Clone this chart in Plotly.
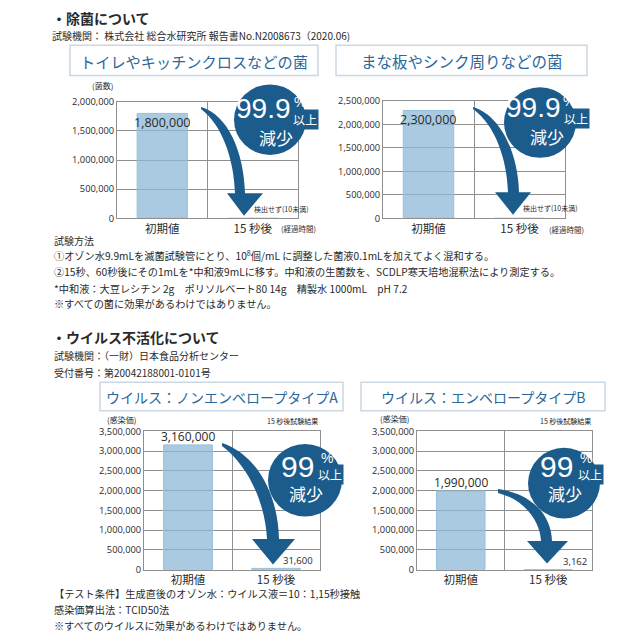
import plotly.graph_objects as go

# ---------------- data ----------------
categories = ["初期値", "15 秒後"]
bacteria_cloth = [1800000, 0]        # トイレやキッチンクロスなどの菌 (15秒後: 検出せず)
bacteria_board = [2300000, 0]        # まな板やシンク周りなどの菌 (15秒後: 検出せず)
virus_type_a = [3160000, 31600]      # ノンエンベロープタイプA
virus_type_b = [1990000, 3162]       # エンベロープタイプB
axis_max = [2000000, 2500000, 3500000, 3500000]
tick_step = 500000
panel_titles = ["トイレやキッチンクロスなどの菌", "まな板やシンク周りなどの菌",
                "ウイルス：ノンエンベロープタイプA", "ウイルス：エンベロープタイプB"]
reduction_pct = ["99.9", "99.9", "99", "99"]
series = [bacteria_cloth, bacteria_board, virus_type_a, virus_type_b]

# ---------------- style ----------------
W = H = 640
JP = "Noto Sans CJK JP"
NUM = "Open Sans"
BLUE = "#1b5c8c"
TITLE_BLUE = "#2a679c"
BAR = "rgba(140,184,215,0.75)"
GRID = "#8f8f8f"
TXT = "#2a2a2a"


def px(x):
    return x / W


def py(y):
    return 1 - y / H


def path(cmds):
    out = []
    for c in cmds:
        if c == "Z":
            out.append("Z")
            continue
        op, *pts = c
        out.append(op + " " + " ".join(f"{px(a):.5f},{py(b):.5f}" for a, b in pts))
    return " ".join(out)


# panel geometry in pixels
panels = [
    dict(x=(117, 298), y=(96.7, 215.7)),
    dict(x=(383, 565), y=(96.0, 215.7)),
    dict(x=(144, 320), y=(433.3, 574.3)),
    dict(x=(417, 592), y=(433.3, 574.3)),
]

fig = go.Figure()
layout = dict(width=W, height=H, margin=dict(l=0, r=0, t=0, b=0),
              paper_bgcolor="white", plot_bgcolor="white", showlegend=False,
              font=dict(family=JP, color=TXT))

for i, (vals, pan) in enumerate(zip(series, panels)):
    n = "" if i == 0 else str(i + 1)
    fig.add_trace(go.Bar(x=categories, y=vals, width=0.555,
                         marker=dict(color=BAR, line=dict(color="rgba(150,192,222,1)", width=1)),
                         xaxis="x" + n, yaxis="y" + n, hoverinfo="skip"))
    layout["xaxis" + n] = dict(domain=[px(pan["x"][0]), px(pan["x"][1])], anchor="y" + n,
                               type="category", range=[-0.5, 1.5], tickson="boundaries",
                               showgrid=True, gridcolor=GRID, gridwidth=1,
                               showline=True, mirror=True, linecolor=GRID, linewidth=1,
                               ticks="", tickfont=dict(family=JP, size=11.5, color=TXT))
    layout["yaxis" + n] = dict(domain=[py(pan["y"][1]), py(pan["y"][0])], anchor="x" + n,
                               range=[0, axis_max[i]], dtick=tick_step, tickformat=",d",
                               showgrid=True, gridcolor=GRID, gridwidth=1, zeroline=False,
                               showline=True, mirror=True, linecolor=GRID, linewidth=1,
                               ticks="", tickfont=dict(family=NUM, size=9.3, color=TXT))

ann = []
shapes = []


def text(x, y, s, size=10, color=TXT, family=JP, xanchor="left", bold=False, **kw):
    if bold:
        s = "<b>" + s + "</b>"
    ann.append(dict(x=px(x), y=py(y), xref="paper", yref="paper", text=s, showarrow=False,
                    xanchor=xanchor, yanchor="middle", font=dict(family=family, size=size, color=color), **kw))


# ---- headers & notes ----
text(50, 11, "・除菌について", size=14, bold=True)
text(50, 29, "試験機関： 株式会社 総合水研究所 報告書No.N2008673（2020.06)", size=10)
text(52, 238, "試験方法", size=10)
text(52, 254, "①オゾン水9.9mLを滅菌試験管にとり、10<sup>8</sup>個/mL に調整した菌液0.1mLを加えてよく混和する。", size=10.2)
text(52, 270, "②15秒、60秒後にその1mLを*中和液9mLに移す。中和液の生菌数を、SCDLP寒天培地混釈法により測定する。", size=10.2)
text(52, 287, "*中和液：大豆レシチン 2g　ポリソルベート80 14g　精製水 1000mL　pH 7.2", size=10.2)
text(52, 303, "※すべての菌に効果があるわけではありません。", size=10.2)

text(50, 337, "・ウイルス不活化について", size=14, bold=True)
text(52, 356, "試験機関：（一財）日本食品分析センター", size=10)
text(52, 373, "受付番号：第20042188001-0101号", size=10)
text(52, 599, "【テスト条件】生成直後のオゾン水：ウイルス液＝10：1,15秒接触", size=10.2)
text(52, 615, "感染価算出法：TCID50法", size=10.2)
text(52, 631, "※すべてのウイルスに効果があるわけではありません。", size=10.2)

# ---- title boxes ----
boxes = [(70, 39, 318, 70), (336, 39, 587, 70), (100, 383, 343, 412), (361, 383, 605, 412)]
for (x0, y0, x1, y1), t, fs in zip(boxes, panel_titles, [15.2, 15.5, 14, 14]):
    shapes.append(dict(type="rect", xref="paper", yref="paper", x0=px(x0), x1=px(x1), y0=py(y1), y1=py(y0),
                       fillcolor="white", line=dict(color="#cbd8e4", width=1.5), layer="above"))
    text((x0 + x1) / 2, (y0 + y1) / 2 + 1, t, size=fs, color=TITLE_BLUE, xanchor="center")

# ---- small axis labels ----
text(102, 80, "(菌数)", size=8, xanchor="center")
text(298, 226, "(経過時間)", size=7.5, xanchor="center")
text(566, 227, "(経過時間)", size=7.5, xanchor="center")
text(121, 421, "(感染価)", size=8, xanchor="center")
text(394, 420, "(感染価)", size=8, xanchor="center")
text(292, 423, "15 秒後試験結果", size=7, xanchor="center")
text(565, 423, "15 秒後試験結果", size=7, xanchor="center")

# ---- value labels (data coordinates) ----
def vlabel(i, k, s, xshift=0, yshift=0, size=12.5, family=NUM):
    n = "" if i == 0 else str(i + 1)
    ann.append(dict(x=categories[k], y=series[i][k], xref="x" + n, yref="y" + n, text=s,
                    showarrow=False, xshift=xshift, yshift=yshift, xanchor="center", yanchor="middle",
                    font=dict(family=family, size=size, color=TXT)))


vlabel(0, 0, f"{bacteria_cloth[0]:,}", yshift=-9)
vlabel(1, 0, f"{bacteria_board[0]:,}", yshift=-9)
vlabel(2, 0, f"{virus_type_a[0]:,}", yshift=8, size=12)
vlabel(3, 0, f"{virus_type_b[0]:,}", yshift=9, size=12)
vlabel(2, 1, f"{virus_type_a[1]:,}", xshift=22, yshift=8, size=9.5)
vlabel(3, 1, f"{virus_type_b[1]:,}", xshift=27, yshift=8, size=9.5)
vlabel(0, 1, "検出せず(10未満)", xshift=29, yshift=9, size=7, family=JP)
vlabel(1, 1, "検出せず(10未満)", xshift=31, yshift=10, size=7, family=JP)

# ---- arrows ----
arrows = [
    [("M", (201, 102)), ("C", (228, 110), (244, 148), (245, 190)), ("L", (263, 190)), ("L", (244, 213)),
     ("L", (227, 190)), ("L", (235, 190)), ("C", (234, 155), (222, 120), (201, 104)), "Z"],
    [("M", (473, 102)), ("C", (500, 110), (518, 148), (519, 189)), ("L", (531, 189)), ("L", (513, 212)),
     ("L", (495, 189)), ("L", (508, 189)), ("C", (507, 155), (495, 120), (473, 104)), "Z"],
    [("M", (222, 445)), ("C", (255, 456), (278, 495), (279, 543)), ("L", (295, 543)), ("L", (273, 569)),
     ("L", (252, 543)), ("L", (267, 543)), ("C", (265, 505), (248, 468), (222, 448)), "Z"],
    [("M", (498, 492)), ("C", (528, 496), (551, 515), (552, 545)), ("L", (568, 545)), ("L", (547, 568)),
     ("L", (527, 545)), ("L", (541, 545)), ("C", (540, 525), (525, 503), (498, 496)), "Z"],
]
for a in arrows:
    shapes.append(dict(type="path", xref="paper", yref="paper", path=path(a),
                       fillcolor=BLUE, line=dict(width=0), layer="above"))

# ---- reduction badges ----
badges = [
    dict(c=(270, 115), r=36, num=(263, 104), pct=(300, 97), ijo=(305, 115), gen=(276, 133), big=True),
    dict(c=(540, 118), r=36, num=(533, 103), pct=(569, 96), ijo=(576, 114), gen=(547, 132), big=True),
    dict(c=(305, 483), r=37, num=(297, 469), pct=(327, 460), ijo=(330, 477), gen=(306, 497), big=False),
    dict(c=(564, 486), r=36, num=(556, 469), pct=(586, 460), ijo=(590, 477), gen=(565, 497), big=False),
]
for b, pct in zip(badges, reduction_pct):
    cx, cy = b["c"]
    r = b["r"]
    shapes.append(dict(type="circle", xref="paper", yref="paper", x0=px(cx - r), x1=px(cx + r),
                       y0=py(cy + r), y1=py(cy - r), fillcolor=BLUE, line=dict(width=0), layer="above"))
    text(b["num"][0], b["num"][1], pct, size=28 if b["big"] else 30, color="white",
         family="Liberation Sans", xanchor="center")
    text(b["pct"][0], b["pct"][1], "%", size=14, color="white", family="Liberation Sans", xanchor="center")
    text(b["ijo"][0], b["ijo"][1], "以上", size=12, color="white", xanchor="center", bgcolor=BLUE, borderpad=1)
    text(b["gen"][0], b["gen"][1], "減少", size=17, color="white", xanchor="center")

layout["annotations"] = ann
layout["shapes"] = shapes
fig.update_layout(**layout)
fig.write_html("out.html")
